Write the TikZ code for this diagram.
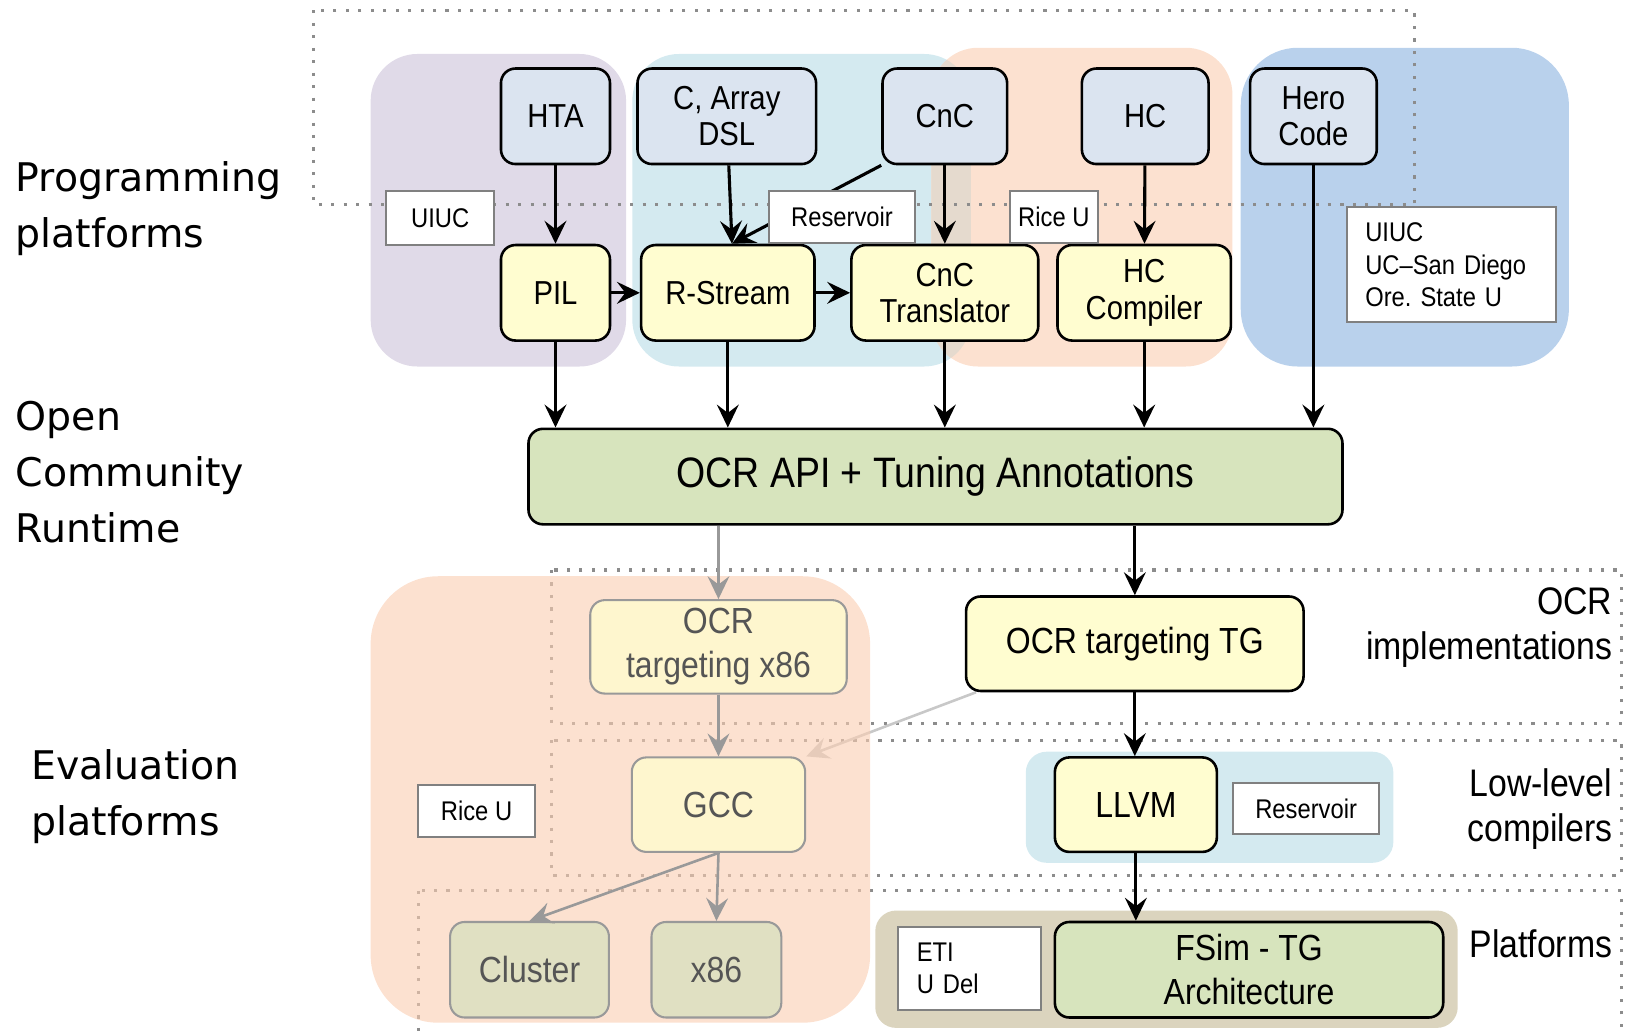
\documentclass[tikz,border=0pt]{standalone}
\usepackage{fontspec}
\usepackage{xcolor}
\usetikzlibrary{arrows.meta}
\newfontfamily\boxfont[FakeStretch=0.88]{Liberation Sans}
\newfontfamily\sidefont{DejaVu Sans}
\definecolor{srcblue}{RGB}{219,228,240}
\definecolor{toolyellow}{RGB}{255,253,208}
\definecolor{apigreen}{RGB}{215,228,189}
\definecolor{fadeyellow}{RGB}{254,246,206}
\definecolor{fadegreen}{RGB}{224,224,194}
\definecolor{uiucarea}{RGB}{224,218,232}
\definecolor{resvarea}{RGB}{212,234,240}
\definecolor{ricearea}{RGB}{252,225,208}
\definecolor{sharedarea}{RGB}{229,218,206}
\definecolor{heroarea}{RGB}{185,209,236}
\definecolor{evalarea}{RGB}{250,205,177}
\definecolor{etiarea}{RGB}{219,212,190}
\definecolor{dotgray}{RGB}{140,140,140}
\definecolor{taggray}{RGB}{128,128,128}
\definecolor{fadeline}{RGB}{153,153,153}
\definecolor{fadetext}{RGB}{85,85,85}
\definecolor{lightline}{RGB}{200,200,200}
\pgfdeclarelayer{back}
\pgfdeclarelayer{mid}
\pgfsetlayers{back,mid,main}
\frenchspacing
\tikzset{
    prog-box/.style = {draw, line width=2.5pt, rounded corners=14pt, inner sep=0pt, align=center, minimum height=92pt, font=\boxfont\fontsize{32}{35}\selectfont},
    src-box/.style = {prog-box, fill=srcblue},
    tool-box/.style = {prog-box, fill=toolyellow},
    api-box/.style = {prog-box, fill=apigreen, font=\boxfont\fontsize{41}{45}\selectfont},
    impl-box/.style = {prog-box, font=\boxfont\fontsize{35}{42}\selectfont},
    faded-box/.style = {impl-box, draw=fadeline, line width=2pt, text=fadetext},
    org-tag/.style = {draw=taggray, line width=2pt, fill=white, inner sep=0pt, align=center, font=\boxfont\fontsize{26}{31}\selectfont},
    side-label/.style = {inner sep=0pt, align=left, font=\sidefont\fontsize{38}{54}\selectfont},
    tier-label/.style = {inner sep=0pt, align=right, font=\boxfont\fontsize{37}{43}\selectfont},
    group-area/.style = {rounded corners=45pt},
    tier-frame/.style = {draw=dotgray, line width=3pt, dash pattern=on 3pt off 9pt},
    flow/.style = {line width=3pt, -{Stealth[length=22pt, width=21pt, inset=8pt]}},
    faded-flow/.style = {flow, draw=fadeline, line width=2.5pt},
}

\begin{document}
\begin{tikzpicture}[x=1pt, y=-1pt]
\useasboundingbox (0,0) rectangle (1568,995);

% group areas and tier frames
\begin{pgfonlayer}{back}
\fill[uiucarea, group-area] (357,52) rectangle (603,353);
\fill[resvarea, group-area] (609,52) rectangle (935,353);
\fill[ricearea, group-area] (897,46) rectangle (1187,353);
\begin{scope}
    \clip[group-area] (609,52) rectangle (935,353);
    \fill[sharedarea, group-area] (897,46) rectangle (1187,353);
\end{scope}
\fill[heroarea, rounded corners=55pt] (1195,46) rectangle (1511,353);
\draw[tier-frame] (302,10) rectangle (1362,197);
\draw[tier-frame] (531,549) rectangle (1562,697);
\draw[tier-frame] (531,713) rectangle (1562,843);
\draw[tier-frame] (403,858) rectangle (1562,1010);
\end{pgfonlayer}
\begin{pgfonlayer}{mid}
\fill[evalarea, fill opacity=0.6, rounded corners=65pt] (357,555) rectangle (838,985);
\fill[resvarea, rounded corners=20pt] (988,724) rectangle (1342,831);
\fill[etiarea, rounded corners=20pt] (843,877) rectangle (1404,990);
\end{pgfonlayer}

% side titles
\node[side-label, anchor=north west] (progtitle) at (15,155) {Programming\\platforms};
\node[side-label, anchor=north west] (ocrtitle) at (15,386) {Open\\Community\\Runtime};
\node[side-label, anchor=north west] (evaltitle) at (30,722) {Evaluation\\platforms};
\node[tier-label, anchor=north east] (impltitle) at (1553,566) {OCR\\implementations};
\node[tier-label, anchor=north east] (lowtitle) at (1553,740) {Low-level\\compilers};
\node[tier-label, anchor=north east] (platftitle) at (1553,895) {Platforms};

% programming platforms
\node[src-box, minimum width=105pt] (hta) at (535,112) {HTA};
\node[src-box, minimum width=172pt] (dsl) at (700,112) {C, Array\\DSL};
\node[src-box, minimum width=120pt] (cnc) at (910,112) {CnC};
\node[src-box, minimum width=122pt] (hc) at (1103,112) {HC};
\node[src-box, minimum width=122pt] (hero) at (1265,112) {Hero\\Code};
\node[tool-box, minimum width=105pt] (pil) at (535,282) {PIL};
\node[tool-box, minimum width=167pt] (rstream) at (701,282) {R-Stream};
\node[tool-box, minimum width=180pt] (cnctrans) at (910,282) {CnC\\Translator};
\node[tool-box, minimum width=167pt] (hccomp) at (1102,282) {HC\\Compiler};
\node[api-box, minimum width=784pt] (ocrapi) at (901,459) {OCR API + Tuning Annotations};

% evaluation platforms
\node[faded-box, fill=fadeyellow, minimum width=247pt, minimum height=90pt] (ocrx86) at (692,623) {OCR\\targeting x86};
\node[impl-box, fill=toolyellow, minimum width=325pt, minimum height=91pt] (ocrtg) at (1093,620) {OCR targeting TG};
\node[faded-box, fill=fadeyellow, minimum width=167pt, minimum height=91pt] (gcc) at (692,775) {GCC};
\node[impl-box, fill=toolyellow, minimum width=156pt, minimum height=91pt] (llvm) at (1094,775) {LLVM};
\node[faded-box, fill=fadegreen, minimum width=153pt] (cluster) at (510,934) {Cluster};
\node[faded-box, fill=fadegreen, minimum width=125pt] (xeightysix) at (690,934) {x86};
\node[impl-box, fill=apigreen, minimum width=374pt] (fsim) at (1203,934) {FSim - TG\\Architecture};

% connectors
\draw[flow] (hta) -- (pil);
\draw[flow] (dsl) -- ([xshift=4pt]rstream.north);
\draw[flow] (cnc.south west) -- ([xshift=4pt]rstream.north);
\draw[flow] (cnc) -- (cnctrans);
\draw[flow] (hc) -- (hccomp);
\draw[flow] (pil) -- (rstream);
\draw[flow] (rstream) -- (cnctrans);
\draw[flow] (pil) -- (pil |- ocrapi.north);
\draw[flow] (rstream) -- (rstream |- ocrapi.north);
\draw[flow] (cnctrans) -- (cnctrans |- ocrapi.north);
\draw[flow] (hccomp) -- (hccomp |- ocrapi.north);
\draw[flow] (hero) -- (hero |- ocrapi.north);
\draw[faded-flow] (ocrx86 |- ocrapi.south) -- (ocrx86);
\draw[flow] (ocrtg |- ocrapi.south) -- (ocrtg);
\draw[faded-flow] (ocrx86) -- (gcc);
\draw[flow] (ocrtg) -- (ocrtg |- llvm.north);
\draw[faded-flow] (gcc.south) -- (cluster.north);
\draw[faded-flow] (gcc.south) -- (xeightysix.north);
\draw[flow] (llvm) -- (llvm |- fsim.north);
\begin{pgfonlayer}{back}
\draw[flow, draw=lightline, line width=2.5pt] (ocrtg.197) -- (gcc.north east);
\end{pgfonlayer}

% organisation tags
\node[org-tag, minimum width=104pt, minimum height=52pt] (uiuc) at (424,210) {UIUC};
\node[org-tag, minimum width=141pt, minimum height=50pt] (resv) at (811,209) {Reservoir};
\node[org-tag, minimum width=85pt, minimum height=50pt] (riceu) at (1015,209) {Rice U};
\node[org-tag, align=left, text width=166pt, inner xsep=18pt, minimum height=111pt] (uiucetc) at (1398,255) {UIUC\\UC–San Diego\\Ore. State U};
\node[org-tag, minimum width=112pt, minimum height=50pt] (riceeval) at (459,781) {Rice U};
\node[org-tag, minimum width=141pt, minimum height=49pt] (resveval) at (1258,779) {Reservoir};
\node[org-tag, align=left, text width=102pt, inner xsep=18pt, minimum height=80pt] (etiudel) at (934,933) {ETI\\U Del};
\end{tikzpicture}
\end{document}
